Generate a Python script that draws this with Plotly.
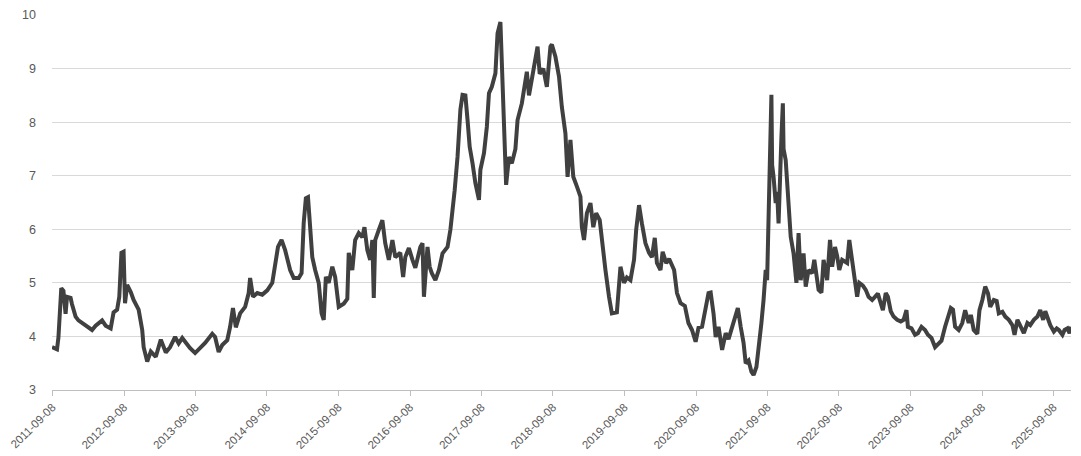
import pandas as pd
import plotly.graph_objects as go

t_years = [
    2011.68, 2011.75, 2011.77, 2011.81, 2011.84, 2011.87, 2011.89, 2011.94, 2011.96, 2012.01,
    2012.05, 2012.10, 2012.19, 2012.24, 2012.29, 2012.38, 2012.43, 2012.50, 2012.54, 2012.59,
    2012.62, 2012.65, 2012.68, 2012.70, 2012.73, 2012.78, 2012.82, 2012.89, 2012.94, 2012.96,
    2013.01, 2013.06, 2013.13, 2013.20, 2013.27, 2013.33, 2013.40, 2013.45,
    2013.50, 2013.61, 2013.68, 2013.75, 2013.82, 2013.92, 2013.96, 2014.01, 2014.06, 2014.13,
    2014.17, 2014.21, 2014.25, 2014.31, 2014.38, 2014.43, 2014.45, 2014.49, 2014.55, 2014.62,
    2014.69, 2014.76, 2014.80, 2014.84, 2014.89, 2014.94, 2015.01, 2015.06, 2015.13, 2015.17,
    2015.20, 2015.23,
    2015.26, 2015.29, 2015.32, 2015.36, 2015.41, 2015.45, 2015.48, 2015.51, 2015.55, 2015.60,
    2015.64, 2015.69, 2015.76, 2015.81, 2015.83, 2015.88, 2015.92, 2015.97, 2016.02, 2016.05,
    2016.09, 2016.13, 2016.16, 2016.18, 2016.20, 2016.25, 2016.30, 2016.34, 2016.39, 2016.44,
    2016.48, 2016.55, 2016.59, 2016.62, 2016.67, 2016.72, 2016.76, 2016.83, 2016.86, 2016.88,
    2016.93, 2016.96, 2016.99, 2017.04, 2017.09, 2017.14,
    2017.21, 2017.25, 2017.29, 2017.31, 2017.35, 2017.39, 2017.42, 2017.46, 2017.49, 2017.52,
    2017.56, 2017.60, 2017.65, 2017.67, 2017.72, 2017.76, 2017.79, 2017.83, 2017.88, 2017.91,
    2017.95, 2017.99, 2018.02, 2018.03, 2018.07, 2018.11, 2018.16, 2018.19, 2018.25, 2018.32,
    2018.35, 2018.39, 2018.44, 2018.47, 2018.50, 2018.55, 2018.60, 2018.65, 2018.67, 2018.72,
    2018.77, 2018.81, 2018.86, 2018.89, 2018.93, 2018.97, 2019.02, 2019.07, 2019.09, 2019.12,
    2019.16, 2019.21, 2019.25, 2019.29, 2019.34,
    2019.40, 2019.42, 2019.47, 2019.51, 2019.58, 2019.63, 2019.68, 2019.72, 2019.77, 2019.82,
    2019.85, 2019.89, 2019.93, 2019.98, 2020.03, 2020.07, 2020.11, 2020.14, 2020.19, 2020.22,
    2020.27, 2020.31, 2020.38, 2020.42, 2020.47, 2020.53, 2020.58, 2020.63,
    2020.68, 2020.72, 2020.77, 2020.82, 2020.86, 2020.89, 2020.93, 2020.96, 2021.00, 2021.05,
    2021.10, 2021.14, 2021.19, 2021.24, 2021.27, 2021.31, 2021.35, 2021.38, 2021.42, 2021.46,
    2021.49, 2021.53, 2021.56, 2021.60, 2021.63, 2021.66, 2021.68, 2021.70, 2021.72, 2021.74,
    2021.75, 2021.77, 2021.80, 2021.82, 2021.84, 2021.86, 2021.88, 2021.90, 2021.91, 2021.94,
    2021.96, 2021.98, 2022.01, 2022.05, 2022.09, 2022.12, 2022.15, 2022.19, 2022.22, 2022.26,
    2022.31, 2022.34, 2022.40, 2022.44, 2022.47, 2022.52, 2022.56,
    2022.59, 2022.63, 2022.66, 2022.69, 2022.73, 2022.80, 2022.83, 2022.87, 2022.91, 2022.94,
    2022.97, 2023.02, 2023.06, 2023.10, 2023.15, 2023.20, 2023.23, 2023.27, 2023.30, 2023.34,
    2023.37, 2023.41, 2023.45, 2023.50, 2023.55, 2023.59, 2023.63, 2023.65, 2023.70, 2023.75,
    2023.79, 2023.84, 2023.89, 2023.93, 2023.98, 2024.03, 2024.07, 2024.12, 2024.17, 2024.21,
    2024.25, 2024.28, 2024.31, 2024.36,
    2024.41, 2024.45, 2024.50, 2024.53, 2024.57, 2024.62, 2024.65, 2024.69, 2024.73, 2024.77,
    2024.80, 2024.85, 2024.89, 2024.92, 2024.97, 2025.01, 2025.06, 2025.11, 2025.14, 2025.18,
    2025.22, 2025.27, 2025.32, 2025.36, 2025.41, 2025.46, 2025.50, 2025.54, 2025.57, 2025.61,
    2025.64, 2025.69, 2025.73, 2025.76, 2025.81, 2025.84, 2025.88, 2025.91, 2025.93,
]

values = [
    3.80, 3.76, 3.98, 4.90, 4.85, 4.42, 4.74, 4.72, 4.60, 4.37,
    4.30, 4.25, 4.18, 4.12, 4.20, 4.30, 4.20, 4.15, 4.45, 4.50,
    4.74, 5.56, 5.58, 4.62, 4.96, 4.83, 4.68, 4.50, 4.12, 3.80,
    3.53, 3.72, 3.62, 3.94, 3.70, 3.80, 3.99, 3.87,
    3.97, 3.78, 3.69, 3.78, 3.88, 4.05, 3.99, 3.71, 3.84, 3.93,
    4.18, 4.53, 4.17, 4.43, 4.55, 4.81, 5.09, 4.74, 4.81, 4.78,
    4.86, 5.00, 5.30, 5.67, 5.80, 5.61, 5.24, 5.09, 5.09, 5.18,
    6.12, 6.58,
    6.60, 5.99, 5.48, 5.24, 5.00, 4.43, 4.31, 5.11, 5.00, 5.30,
    5.11, 4.55, 4.61, 4.70, 5.56, 5.24, 5.80, 5.93, 5.85, 6.04,
    5.61, 5.43, 5.80, 4.72, 5.80, 5.99, 6.17, 5.74, 5.43, 5.80,
    5.48, 5.56, 5.11, 5.48, 5.65, 5.43, 5.28, 5.67, 5.74, 4.74,
    5.67, 5.30, 5.18, 5.05, 5.24, 5.55,
    5.67, 5.99, 6.42, 6.73, 7.35, 8.23, 8.51, 8.50, 8.04, 7.54,
    7.23, 6.86, 6.55, 7.11, 7.42, 7.91, 8.54, 8.66, 8.91, 9.66,
    9.87, 8.54, 7.48, 6.83, 7.35, 7.23, 7.50, 8.04, 8.35, 8.94,
    8.50, 8.79, 9.16, 9.41, 8.90, 9.00, 8.66, 9.41, 9.45, 9.22,
    8.85, 8.28, 7.79, 6.98, 7.67, 6.98, 6.80, 6.61, 6.04, 5.80,
    6.30, 6.49, 6.04, 6.30, 6.17,
    5.37, 5.24, 4.74, 4.43, 4.45, 5.30, 5.00, 5.10, 5.05, 5.43,
    5.99, 6.45, 6.11, 5.74, 5.56, 5.48, 5.84, 5.37, 5.24, 5.58,
    5.37, 5.45, 5.24, 4.81, 4.62, 4.57, 4.25, 4.12,
    3.90, 4.16, 4.18, 4.50, 4.81, 4.82, 4.43, 3.99, 4.18, 3.75,
    4.06, 3.95, 4.18, 4.43, 4.53, 4.18, 3.88, 3.50, 3.55, 3.34,
    3.28, 3.43, 3.75, 4.25, 4.68, 5.24, 5.05, 5.99, 7.23, 8.51,
    7.20, 6.98, 6.49, 6.70, 6.11, 7.20, 7.72, 8.35, 7.50, 7.29,
    6.80, 6.40, 5.86, 5.55, 5.00, 5.93, 5.05, 5.55, 4.93, 5.24,
    5.18, 5.43, 4.87, 4.82, 5.43, 5.05, 5.80,
    5.30, 5.67, 5.50, 5.24, 5.43, 5.37, 5.80, 5.43, 5.11, 4.74,
    5.00, 4.95, 4.87, 4.74, 4.68, 4.74, 4.80, 4.62, 4.49, 4.81,
    4.74, 4.47, 4.37, 4.31, 4.28, 4.31, 4.49, 4.18, 4.15, 4.03,
    4.06, 4.18, 4.12, 4.03, 3.97, 3.80, 3.85, 3.92, 4.18, 4.37,
    4.53, 4.50, 4.18, 4.12,
    4.25, 4.49, 4.25, 4.40, 4.12, 4.05, 4.49, 4.68, 4.93, 4.80,
    4.55, 4.68, 4.66, 4.43, 4.46, 4.37, 4.31, 4.21, 4.03, 4.31,
    4.21, 4.06, 4.25, 4.21, 4.31, 4.37, 4.49, 4.31, 4.47, 4.31,
    4.21, 4.09, 4.15, 4.12, 4.03, 4.12, 4.15, 4.06, 4.18,
]

tick_labels = [f"{y}-09-08" for y in range(2011, 2026)]
y_ticks = [3, 4, 5, 6, 7, 8, 9, 10]


def to_date(t):
    y = int(t)
    start = pd.Timestamp(year=y, month=1, day=1)
    end = pd.Timestamp(year=y + 1, month=1, day=1)
    return start + (end - start) * (t - y)


dates = [to_date(t) for t in t_years]
tick_vals = [pd.Timestamp(s) for s in tick_labels]

fig = go.Figure()
fig.add_trace(go.Scatter(
    x=dates, y=values, mode="lines",
    line=dict(color="#404040", width=4),
    hoverinfo="x+y", showlegend=False,
))

font_family = "Liberation Sans"
fig.update_layout(
    width=1081, height=456,
    margin=dict(l=52, r=10, t=15, b=66, autoexpand=False),
    paper_bgcolor="white", plot_bgcolor="white",
    font=dict(family=font_family, size=12, color="#595959"),
    xaxis=dict(
        type="date",
        automargin=False,
        range=[dates[0], dates[-1]],
        tickmode="array", tickvals=tick_vals, ticktext=tick_labels,
        tickangle=-45,
        ticks="outside", ticklen=5, tickcolor="#bfbfbf", tickwidth=1,
        showline=True, linecolor="#bfbfbf", linewidth=1,
        showgrid=False, zeroline=False,
        tickfont=dict(family=font_family, size=11.5, color="#595959"),
    ),
    yaxis=dict(
        automargin=False,
        range=[3, 10],
        tickmode="array", tickvals=y_ticks,
        showgrid=True, gridcolor="#d9d9d9", gridwidth=1,
        zeroline=False, showline=False, ticks="",
        ticklabelstandoff=15,
        tickfont=dict(family=font_family, size=12.5, color="#595959"),
    ),
)

fig.write_html(
    "out.html",
    config={"displayModeBar": False},
    post_script="document.body.style.margin='0';document.body.style.overflow='hidden';",
)
